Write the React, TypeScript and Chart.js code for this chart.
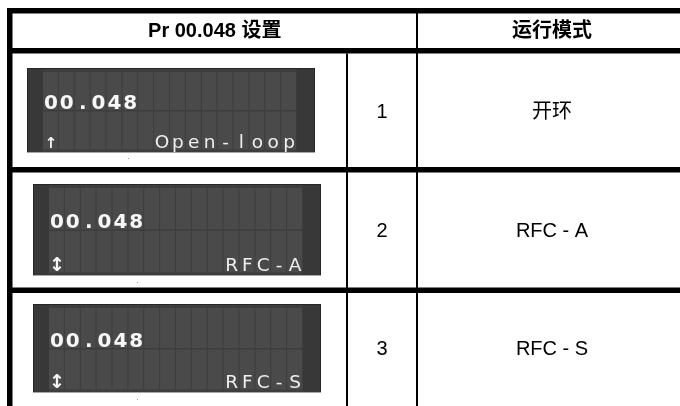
import React, { useEffect, useRef } from "react";
import { Chart, registerables } from "chart.js";

Chart.register(...registerables);

// ---- table content ----
const HEADERS = ["Pr 00.048 设置", "运行模式"];
const PARAM_VALUES = ["1", "2", "3"];
const MODE_NAMES = ["开环", "RFC - A", "RFC - S"];
const LCD_PARAM = "00.048";
const LCD_MODE_TEXT = ["Open-loop", "RFC-A", "RFC-S"];
const LCD_ARROWS = ["↑", "↕", "↕"];

// ---- layout (scale units) ----
const W = 680;
const H = 406;
const LEFT_BORDER = [7, 12.5];
const COL_DIVIDERS = [347, 417]; // thin vertical lines
const RIGHT_EDGE = 687;
const H_LINES = [
  [8, 13.5],
  [48, 53.5],
  [167, 172.5],
  [287.5, 293],
];
const ROW_TEXT_CENTER = [29.75, 110.5, 230, 348];
const LCD_BOX = [
  { x: 27, y: 68, w: 288, h: 85 },
  { x: 33, y: 184, w: 288, h: 92 },
  { x: 33, y: 304, w: 288, h: 89 },
];
const LCD_COLS = 16;
const ARROW_SIZE = [15, 19, 19];

const tablePlugin = {
  id: "tablePlugin",
  beforeDraw(chart: any) {
    const ctx = chart.ctx;
    ctx.save();
    ctx.fillStyle = "#ffffff";
    ctx.fillRect(0, 0, chart.width, chart.height);
    ctx.restore();
  },
  afterDatasetsDraw(chart: any) {
    const ctx: CanvasRenderingContext2D = chart.ctx;
    const xs = chart.scales.x;
    const ys = chart.scales.y;
    const px = (v: number) => xs.getPixelForValue(v);
    const py = (v: number) => ys.getPixelForValue(v);
    ctx.save();

    // thick horizontal lines
    ctx.fillStyle = "#000";
    H_LINES.forEach(([a, b]) => {
      ctx.fillRect(px(LEFT_BORDER[0]), py(a), px(RIGHT_EDGE) - px(LEFT_BORDER[0]), py(b) - py(a));
    });
    // left border
    ctx.fillRect(px(LEFT_BORDER[0]), py(H_LINES[0][0]), px(LEFT_BORDER[1]) - px(LEFT_BORDER[0]), py(H) - py(H_LINES[0][0]));
    // thin dividers
    ctx.fillRect(px(COL_DIVIDERS[1] - 1), py(H_LINES[0][0]), 2, py(H) - py(H_LINES[0][0]));
    ctx.fillRect(px(COL_DIVIDERS[0] - 1), py(H_LINES[1][1]), 2, py(H) - py(H_LINES[1][1]));

    // header text
    const cjk = "'Liberation Sans', Arial, 'Noto Sans CJK SC', sans-serif";
    ctx.fillStyle = "#000";
    ctx.textAlign = "center";
    ctx.textBaseline = "alphabetic";
    ctx.font = `bold 20px ${cjk}`;
    const c1 = (px(LEFT_BORDER[1]) + px(COL_DIVIDERS[1])) / 2;
    const c2 = (px(COL_DIVIDERS[1]) + px(RIGHT_EDGE)) / 2;
    const cNum = (px(COL_DIVIDERS[0]) + px(COL_DIVIDERS[1])) / 2;
    ctx.fillText(HEADERS[0], c1, py(ROW_TEXT_CENTER[0]) + 7.2);
    ctx.fillText(HEADERS[1], c2, py(ROW_TEXT_CENTER[0]) + 7.2);

    ctx.font = `20px ${cjk}`;
    PARAM_VALUES.forEach((v, i) => {
      const yb = py(ROW_TEXT_CENTER[i + 1]) + 7.2;
      ctx.fillText(v, cNum, yb);
      ctx.fillText(MODE_NAMES[i], c2, yb);
    });

    // LCD displays
    LCD_BOX.forEach((b, i) => {
      const x0 = px(b.x), y0 = py(b.y), x1 = px(b.x + b.w), y1 = py(b.y + b.h);
      ctx.fillStyle = "#3d3d3d";
      ctx.fillRect(x0, y0, x1 - x0, y1 - y0);
      ctx.strokeStyle = "#262626";
      ctx.lineWidth = 1;
      ctx.strokeRect(x0 + 0.5, y0 + 0.5, x1 - x0 - 1, y1 - y0 - 1);
      ctx.fillStyle = "#a8a8a8";
      ctx.fillRect(x0, y1 - 1, x1 - x0, 1);
      // side bands
      const cl = x0 + 16, cr = x1 - 18;
      const ct = y0 + 4, cb = y1 - 3.5;
      ctx.fillStyle = "#383838";
      ctx.fillRect(x0 + 1, y0 + 1, cl - x0 - 1, y1 - y0 - 2);
      ctx.fillRect(cr, y0 + 1, x1 - cr - 1, y1 - y0 - 2);
      // cells
      const cw = (cr - cl) / LCD_COLS;
      const gap = 1.5;
      const rh = (cb - ct - gap) / 2;
      ctx.fillStyle = "#4a4a4a";
      for (let r = 0; r < 2; r++) {
        for (let c = 0; c < LCD_COLS; c++) {
          const cx = cl + c * cw;
          const cy = ct + r * (rh + gap);
          ctx.fillRect(cx, cy, cw - 1, rh);
        }
      }
      // top line: parameter
      ctx.fillStyle = "#f7f7f7";
      ctx.textAlign = "center";
      ctx.font = "bold 20px 'DejaVu Sans', sans-serif";
      const topBase = ct + rh - 1.5;
      for (let k = 0; k < LCD_PARAM.length; k++) {
        ctx.fillText(LCD_PARAM[k], cl + (k + 0.5) * cw, topBase);
      }
      // bottom line: arrow + mode text (right aligned)
      const botBase = cb - 1.5;
      ctx.font = `bold ${ARROW_SIZE[i]}px 'DejaVu Sans', sans-serif`;
      ctx.fillText(LCD_ARROWS[i], cl + 0.5 * cw, botBase);
      ctx.font = "18.5px 'DejaVu Sans', sans-serif";
      ctx.fillStyle = "#eeeeee";
      const t = LCD_MODE_TEXT[i];
      const start = LCD_COLS - t.length;
      for (let k = 0; k < t.length; k++) {
        ctx.fillText(t[k], cl + (start + k + 0.5) * cw, botBase);
      }
      // small shadow dot under display
      ctx.fillStyle = "#9a9a9a";
      ctx.fillRect(x0 + (i === 0 ? 101 : 104), y1 + (i === 0 ? 5 : 6), 1, 1);
    });

    ctx.restore();
  },
};

export default function App() {
  const canvasRef = useRef<HTMLCanvasElement | null>(null);

  useEffect(() => {
    document.body.style.margin = "0";
    const canvas = canvasRef.current;
    if (!canvas) return;
    const chart = new Chart(canvas, {
      type: "scatter",
      data: {
        datasets: [
          {
            label: "rows",
            data: PARAM_VALUES.map((v, i) => ({ x: COL_DIVIDERS[0], y: ROW_TEXT_CENTER[i + 1] })),
            pointRadius: 0,
            showLine: false,
          },
        ],
      },
      options: {
        responsive: false,
        animation: false,
        devicePixelRatio: 1,
        layout: { padding: 0 },
        events: [],
        plugins: {
          legend: { display: false },
          tooltip: { enabled: false },
          title: { display: false },
        },
        scales: {
          x: { type: "linear", min: 0, max: W, display: false },
          y: { type: "linear", min: 0, max: H, reverse: true, display: false },
        },
      },
      plugins: [tablePlugin],
    });
    return () => chart.destroy();
  }, []);

  return (
    <div style={{ position: "absolute", left: 0, top: 0, width: W, height: H }}>
      <canvas ref={canvasRef} width={W} height={H} style={{ display: "block" }} />
    </div>
  );
}
